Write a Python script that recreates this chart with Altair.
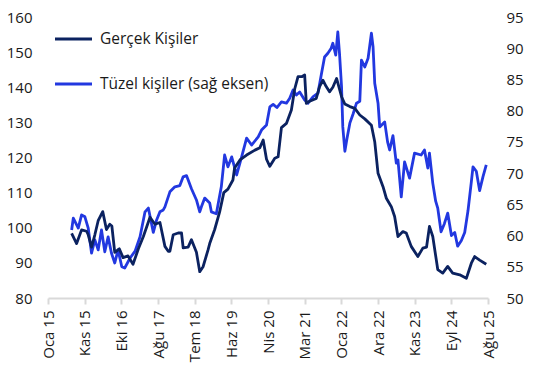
import altair as alt
import pandas as pd
import numpy as np

# Gerçek Kişiler (left axis) — decimal year, value
gercek_t = [2015.57, 2015.69, 2015.81, 2015.93, 2015.97,
            2016.05, 2016.13, 2016.21, 2016.32, 2016.41, 2016.49, 2016.54, 2016.61, 2016.72, 2016.81, 2016.93,
            2017.05, 2017.18, 2017.30, 2017.46, 2017.58, 2017.70, 2017.82, 2017.90, 2017.94,
            2018.02, 2018.14, 2018.22, 2018.26, 2018.38, 2018.46, 2018.58, 2018.66, 2018.74, 2018.86, 2018.90,
            2019.02, 2019.14, 2019.24, 2019.34, 2019.46, 2019.50, 2019.63, 2019.79, 2019.99,
            2020.11, 2020.19, 2020.27, 2020.35, 2020.47, 2020.55, 2020.63, 2020.75, 2020.87, 2020.95,
            2021.03, 2021.12, 2021.19, 2021.23, 2021.31, 2021.47, 2021.55, 2021.63, 2021.71, 2021.79, 2021.87, 2021.96,
            2022.08, 2022.16, 2022.28, 2022.40, 2022.52, 2022.64, 2022.80, 2022.88, 2022.96,
            2023.08, 2023.16, 2023.28, 2023.36, 2023.44, 2023.56, 2023.64, 2023.76, 2023.92,
            2024.04, 2024.13, 2024.20, 2024.28, 2024.40, 2024.52, 2024.64, 2024.76, 2024.93,
            2025.09, 2025.21, 2025.29, 2025.41, 2025.57]
gercek_v = [98.4, 95.5, 99.4, 99, 98,
            94.5, 98, 102, 104.6, 99.5, 101, 100.5, 93, 94, 91.5, 92,
            89.6, 94, 97.5, 103, 101, 101.5, 94.7, 93.3, 93.3,
            98, 98.5, 98.5, 94.3, 94.5, 96.6, 93, 87.5, 88.9, 93.7, 95.5,
            99.5, 104.5, 110, 111, 113.6, 117, 119.3, 120.7, 122.1,
            122.8, 125, 119.5, 117.5, 119.8, 120.2, 128.5, 129.7, 133.5, 139.5,
            143, 143, 143.5, 135.4, 136, 136.8, 140.2, 142, 140.2, 138.7, 140, 142.5,
            137.3, 135.2, 134.5, 134, 132.1, 131, 129.2, 124.5, 115.5,
            111.7, 108.4, 106, 103.2, 97.5, 98.9, 98.5, 94.7, 91.8,
            94.2, 94.5, 100.4, 97.5, 88.1, 87.1, 89, 87.1, 86.6,
            85.6, 89.9, 91.8, 90.8, 89.6]

# Tüzel kişiler (right axis)
tuzel_t = [2015.57, 2015.61, 2015.73, 2015.81, 2015.89, 2015.97,
           2016.05, 2016.13, 2016.21, 2016.29, 2016.37, 2016.45, 2016.53, 2016.61, 2016.69, 2016.78, 2016.85, 2016.98,
           2017.10, 2017.22, 2017.34, 2017.42, 2017.54, 2017.62, 2017.70, 2017.78, 2017.82, 2017.94,
           2018.06, 2018.18, 2018.26, 2018.34, 2018.46, 2018.58, 2018.66, 2018.70, 2018.78, 2018.90, 2018.94,
           2019.06, 2019.18, 2019.26, 2019.34, 2019.43, 2019.55, 2019.67, 2019.79, 2019.91,
           2020.07, 2020.15, 2020.27, 2020.35, 2020.43, 2020.52, 2020.63, 2020.75, 2020.83, 2020.91, 2020.99,
           2021.07, 2021.19, 2021.27, 2021.39, 2021.51, 2021.59, 2021.67, 2021.75, 2021.83, 2021.87, 2021.94, 2021.99,
           2022.03, 2022.08, 2022.11, 2022.16, 2022.21, 2022.28, 2022.36, 2022.44, 2022.52, 2022.56, 2022.64, 2022.72,
           2022.80, 2022.84, 2022.88, 2022.96,
           2023.00, 2023.12, 2023.19, 2023.24, 2023.32, 2023.40, 2023.44, 2023.52, 2023.60, 2023.72, 2023.84,
           2024.00, 2024.08, 2024.16, 2024.20, 2024.28, 2024.35, 2024.40, 2024.48, 2024.56, 2024.64, 2024.73,
           2024.81, 2024.88, 2024.97,
           2025.05, 2025.13, 2025.21, 2025.25, 2025.33, 2025.41, 2025.49, 2025.57]
tuzel_v = [60.9, 62.8, 61.2, 63.3, 63, 61.2,
           57.2, 59.3, 57.7, 60.9, 57.4, 59.8, 57.2, 55.6, 57.7, 55, 54.8, 56.4,
           57.5, 59.8, 63.8, 64.4, 60.5, 62.5, 63.8, 64.1, 64.6, 67,
           67.8, 68, 69.4, 69.6, 67.5, 65.7, 63.8, 64.6, 66, 65.2, 63.8,
           63.5, 67.8, 72.9, 71, 72.6, 69.7, 72.6, 75.6, 74.5,
           75.8, 76.9, 77.7, 80.6, 81, 80.5, 81.4, 81.2, 82, 83.3, 82.5,
           83, 81.7, 81.2, 82.2, 82.8, 85.7, 88.6, 89.2, 90, 90.8, 88.9, 92.6,
           89.2, 83.8, 77.4, 73.5, 75.5, 78, 79.5, 81.2, 81.5, 88.1, 87, 88.4,
           92.4, 90.2, 84.4, 81.2,
           77.4, 78.2, 75, 73.7, 76, 71.6, 72.1, 66.2, 71.8, 69.2, 73.2,
           72.9, 73.7, 70.8, 73.2, 68.4, 65.5, 64.4, 60.6, 61.9, 63.6, 60,
           60.5, 58.3, 59.2,
           60.5, 64, 68.6, 71, 70.3, 67.2, 69.4, 71.3]

series_names = ["Gerçek Kişiler", "Tüzel kişiler (sağ eksen)"]
series_colors = ["#0B2260", "#2238E0"]

# x-axis tick dates (year, month, day) and axis ranges
x_ticks = [(2015, 1, 1), (2015, 11, 20), (2016, 10, 8), (2017, 8, 27), (2018, 7, 16),
           (2019, 6, 4), (2020, 4, 22), (2021, 3, 11), (2022, 1, 28), (2022, 12, 17),
           (2023, 11, 5), (2024, 9, 23), (2025, 8, 12)]
left_ticks = [80, 90, 100, 110, 120, 130, 140, 150, 160]
right_ticks = [50, 55, 60, 65, 70, 75, 80, 85, 90, 95]
month_names = ['Oca', 'Şub', 'Mar', 'Nis', 'May', 'Haz', 'Tem', 'Ağu', 'Eyl', 'Eki', 'Kas', 'Ara']


def to_dates(dec_years):
    base = pd.Timestamp("2015-01-01")
    return base + pd.to_timedelta((np.array(dec_years) - 2015) * 365.25, unit="D")


df_g = pd.DataFrame({"date": to_dates(gercek_t), "value": gercek_v})
df_t = pd.DataFrame({"date": to_dates(tuzel_t), "value": tuzel_v})

FONT = "Open Sans"
tick_vals = [alt.DateTime(year=y, month=m, date=d) for (y, m, d) in x_ticks]
label_expr = ("[" + ",".join("'%s'" % m for m in month_names) + "][month(datum.value)] + ' ' + timeFormat(datum.value, '%y')")

x_enc = alt.X(
    "date:T",
    scale=alt.Scale(domain=[tick_vals[0], tick_vals[-1]]),
    axis=alt.Axis(values=tick_vals, labelExpr=label_expr, labelAngle=270, title=None,
                  grid=False, domainColor="#d9d9d9", domainWidth=2, tickColor="#d9d9d9",
                  tickWidth=2, tickSize=6, labelPadding=6, labelFontSize=15, labelFont=FONT,
                  labelColor="#1a1a1a", labelOverlap=False, labelBound=False, labelFlush=False),
)

gline = alt.Chart(df_g).mark_line(color=series_colors[0], strokeWidth=2.8, strokeJoin="round").encode(
    x=x_enc,
    y=alt.Y("value:Q", scale=alt.Scale(domain=[80, 160], nice=False, zero=False),
            axis=alt.Axis(values=left_ticks, title=None, grid=False, domain=False, ticks=False,
                          tickSize=0, labelPadding=16, labelFontSize=15, labelFont=FONT,
                          labelColor="#1a1a1a")),
)

tline = alt.Chart(df_t).mark_line(color=series_colors[1], strokeWidth=2.8, strokeJoin="round").encode(
    x=x_enc,
    y=alt.Y("value:Q", scale=alt.Scale(domain=[50, 95], nice=False, zero=False),
            axis=alt.Axis(orient="right", values=right_ticks, title=None, grid=False, domain=False,
                          ticks=False, tickSize=0, labelPadding=18, labelFontSize=15, labelFont=FONT,
                          labelColor="#1a1a1a")),
)

legend_df = pd.DataFrame({"name": series_names, "color": series_colors, "row": [0, 1]})
leg_rule1 = alt.Chart(legend_df[legend_df.row == 0]).mark_rule(strokeWidth=3, color=series_colors[0]).encode(
    x=alt.value(7), x2=alt.value(44), y=alt.value(22))
leg_rule2 = alt.Chart(legend_df[legend_df.row == 1]).mark_rule(strokeWidth=3, color=series_colors[1]).encode(
    x=alt.value(7), x2=alt.value(44), y=alt.value(67))
leg_text1 = alt.Chart(legend_df[legend_df.row == 0]).mark_text(
    align="left", baseline="middle", fontSize=15.5, font=FONT, color="#1a1a1a").encode(
    x=alt.value(52), y=alt.value(22), text="name:N")
leg_text2 = alt.Chart(legend_df[legend_df.row == 1]).mark_text(
    align="left", baseline="middle", fontSize=15.5, font=FONT, color="#1a1a1a").encode(
    x=alt.value(52), y=alt.value(67), text="name:N")

chart = alt.layer(tline, gline, leg_rule1, leg_rule2, leg_text1, leg_text2).resolve_scale(
    y="independent"
).properties(
    width=440, height=281,
    autosize=alt.AutoSizeParams(type="none"),
    padding={"left": 48, "top": 17, "right": 48, "bottom": 71},
    background="white",
).configure_view(stroke=None)

chart.save("out.html", embed_options={"renderer": "svg", "actions": False})
